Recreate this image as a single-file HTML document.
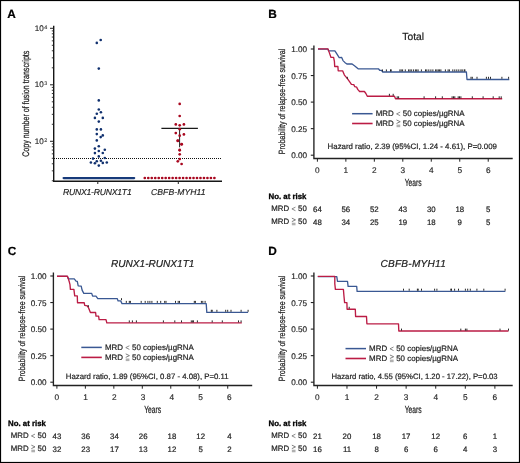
<!DOCTYPE html><html><head><meta charset="utf-8"><style>html,body{margin:0;padding:0;background:#fff}svg{display:block;will-change:transform}</style></head><body>
<svg width="520" height="463" viewBox="0 0 520 463" font-family='"Liberation Sans", sans-serif' text-rendering="geometricPrecision">
<rect x="0" y="0" width="520" height="463" fill="#fff"/>
<rect x="0.5" y="0.5" width="519" height="462" fill="none" stroke="#000" stroke-width="1.2"/>
<text x="7.3" y="17.9" font-size="11.85" text-anchor="start" font-weight="bold" font-style="normal" fill="#000" stroke="#000" stroke-width="0.2" >A</text>
<path d="M53.7 25.8 V181.3 H222" fill="none" stroke="#161616" stroke-width="1.4"/>
<path d="M50 28.30 H53.6" stroke="#222" stroke-width="1"/>
<text x="43.8" y="30.90" font-size="8.1" text-anchor="end" fill="#222" stroke="#222" stroke-width="0.12">10</text>
<text x="44.3" y="28.50" font-size="5.4" fill="#333" stroke="#333" stroke-width="0.1">4</text>
<path d="M50 84.80 H53.6" stroke="#222" stroke-width="1"/>
<text x="43.8" y="87.40" font-size="8.1" text-anchor="end" fill="#222" stroke="#222" stroke-width="0.12">10</text>
<text x="44.3" y="85.00" font-size="5.4" fill="#333" stroke="#333" stroke-width="0.1">3</text>
<path d="M50 141.30 H53.6" stroke="#222" stroke-width="1"/>
<text x="43.8" y="143.90" font-size="8.1" text-anchor="end" fill="#222" stroke="#222" stroke-width="0.12">10</text>
<text x="44.3" y="141.50" font-size="5.4" fill="#333" stroke="#333" stroke-width="0.1">2</text>
<path d="M51.8 67.79 H53.6" stroke="#222" stroke-width="0.9"/>
<path d="M51.8 57.84 H53.6" stroke="#222" stroke-width="0.9"/>
<path d="M51.8 50.78 H53.6" stroke="#222" stroke-width="0.9"/>
<path d="M51.8 45.31 H53.6" stroke="#222" stroke-width="0.9"/>
<path d="M51.8 40.83 H53.6" stroke="#222" stroke-width="0.9"/>
<path d="M51.8 37.05 H53.6" stroke="#222" stroke-width="0.9"/>
<path d="M51.8 33.78 H53.6" stroke="#222" stroke-width="0.9"/>
<path d="M51.8 30.89 H53.6" stroke="#222" stroke-width="0.9"/>
<path d="M51.8 124.29 H53.6" stroke="#222" stroke-width="0.9"/>
<path d="M51.8 114.34 H53.6" stroke="#222" stroke-width="0.9"/>
<path d="M51.8 107.28 H53.6" stroke="#222" stroke-width="0.9"/>
<path d="M51.8 101.81 H53.6" stroke="#222" stroke-width="0.9"/>
<path d="M51.8 97.33 H53.6" stroke="#222" stroke-width="0.9"/>
<path d="M51.8 93.55 H53.6" stroke="#222" stroke-width="0.9"/>
<path d="M51.8 90.28 H53.6" stroke="#222" stroke-width="0.9"/>
<path d="M51.8 87.39 H53.6" stroke="#222" stroke-width="0.9"/>
<path d="M51.8 180.79 H53.6" stroke="#222" stroke-width="0.9"/>
<path d="M51.8 170.84 H53.6" stroke="#222" stroke-width="0.9"/>
<path d="M51.8 163.78 H53.6" stroke="#222" stroke-width="0.9"/>
<path d="M51.8 158.31 H53.6" stroke="#222" stroke-width="0.9"/>
<path d="M51.8 153.83 H53.6" stroke="#222" stroke-width="0.9"/>
<path d="M51.8 150.05 H53.6" stroke="#222" stroke-width="0.9"/>
<path d="M51.8 146.78 H53.6" stroke="#222" stroke-width="0.9"/>
<path d="M51.8 143.89 H53.6" stroke="#222" stroke-width="0.9"/>
<path d="M54 158.5 H222" stroke="#111" stroke-width="1" stroke-dasharray="1 1"/>
<path d="M97.8 181.2 V184" stroke="#222" stroke-width="1"/>
<path d="M178.3 181.2 V184" stroke="#222" stroke-width="1"/>
<text x="97.2" y="195.0" font-size="8.60" text-anchor="middle" font-weight="normal" font-style="italic" fill="#222" stroke="#222" stroke-width="0.15" letter-spacing="-0.2">RUNX1-RUNX1T1</text>
<text x="178.3" y="195.0" font-size="8.60" text-anchor="middle" font-weight="normal" font-style="italic" fill="#222" stroke="#222" stroke-width="0.15" letter-spacing="0.1">CBFB-MYH11</text>
<text transform="translate(28.9 103.7) rotate(-90) scale(0.74 1)" font-size="9.6" text-anchor="middle" fill="#222" stroke="#222" stroke-width="0.24">Copy number of fusion transcripts</text>
<circle cx="96.8" cy="42.9" r="1.3" fill="#10306e"/>
<circle cx="100.7" cy="40.0" r="1.3" fill="#10306e"/>
<circle cx="98.8" cy="68.6" r="1.3" fill="#10306e"/>
<circle cx="98.8" cy="100.4" r="1.3" fill="#10306e"/>
<circle cx="98.8" cy="109.5" r="1.3" fill="#10306e"/>
<circle cx="100.9" cy="112.3" r="1.3" fill="#10306e"/>
<circle cx="96.8" cy="113.8" r="1.3" fill="#10306e"/>
<circle cx="94.9" cy="117.9" r="1.3" fill="#10306e"/>
<circle cx="102.8" cy="117.9" r="1.3" fill="#10306e"/>
<circle cx="98.8" cy="121.6" r="1.3" fill="#10306e"/>
<circle cx="96.8" cy="129.4" r="1.3" fill="#10306e"/>
<circle cx="100.9" cy="129.4" r="1.3" fill="#10306e"/>
<circle cx="96.8" cy="134.1" r="1.3" fill="#10306e"/>
<circle cx="102.8" cy="135.4" r="1.3" fill="#10306e"/>
<circle cx="100.7" cy="137.1" r="1.3" fill="#10306e"/>
<circle cx="96.8" cy="140.4" r="1.3" fill="#10306e"/>
<circle cx="98.8" cy="146.2" r="1.3" fill="#10306e"/>
<circle cx="94.9" cy="148.6" r="1.3" fill="#10306e"/>
<circle cx="98.8" cy="151" r="1.3" fill="#10306e"/>
<circle cx="104.8" cy="149.8" r="1.3" fill="#10306e"/>
<circle cx="94.9" cy="153.1" r="1.3" fill="#10306e"/>
<circle cx="102.8" cy="153" r="1.3" fill="#10306e"/>
<circle cx="98.8" cy="156.4" r="1.3" fill="#10306e"/>
<circle cx="93" cy="158.6" r="1.3" fill="#10306e"/>
<circle cx="104.8" cy="158" r="1.3" fill="#10306e"/>
<circle cx="96.8" cy="161.2" r="1.3" fill="#10306e"/>
<circle cx="100.9" cy="160.7" r="1.3" fill="#10306e"/>
<circle cx="90.9" cy="162.5" r="1.3" fill="#10306e"/>
<circle cx="94.9" cy="163.3" r="1.3" fill="#10306e"/>
<circle cx="102.8" cy="162.9" r="1.3" fill="#10306e"/>
<circle cx="106.8" cy="162.5" r="1.3" fill="#10306e"/>
<circle cx="98.8" cy="165.6" r="1.3" fill="#10306e"/>
<path d="M63.6 178.1 H134.2" stroke="#173a7a" stroke-width="2.2" stroke-linecap="round"/>
<path d="M161.4 128.3 H197.9" stroke="#1a1a1a" stroke-width="1.25"/>
<path d="M179.6 128.3 V147.3" stroke="#222" stroke-width="1"/>
<circle cx="179.70" cy="103.90" r="1.35" fill="#a8071f"/>
<circle cx="179.70" cy="116.00" r="1.35" fill="#a8071f"/>
<circle cx="175.80" cy="124.40" r="1.35" fill="#a8071f"/>
<circle cx="179.70" cy="125.30" r="1.35" fill="#a8071f"/>
<circle cx="183.90" cy="124.40" r="1.35" fill="#a8071f"/>
<circle cx="179.70" cy="129.20" r="1.35" fill="#a8071f"/>
<circle cx="175.80" cy="133.10" r="1.35" fill="#a8071f"/>
<circle cx="179.70" cy="135.70" r="1.35" fill="#a8071f"/>
<circle cx="183.90" cy="134.40" r="1.35" fill="#a8071f"/>
<circle cx="177.80" cy="140.60" r="1.35" fill="#a8071f"/>
<circle cx="181.70" cy="144.30" r="1.35" fill="#a8071f"/>
<circle cx="179.70" cy="149.90" r="1.35" fill="#a8071f"/>
<circle cx="177.80" cy="140.90" r="1.35" fill="#a8071f"/>
<circle cx="181.60" cy="144.20" r="1.35" fill="#a8071f"/>
<circle cx="179.70" cy="150.30" r="1.35" fill="#a8071f"/>
<circle cx="179.70" cy="154.30" r="1.35" fill="#a8071f"/>
<circle cx="179.70" cy="159.10" r="1.35" fill="#a8071f"/>
<circle cx="177.80" cy="161.30" r="1.35" fill="#a8071f"/>
<circle cx="181.60" cy="164.00" r="1.35" fill="#a8071f"/>
<circle cx="144.80" cy="178.0" r="1.35" fill="#a8071f"/>
<circle cx="148.28" cy="178.0" r="1.35" fill="#a8071f"/>
<circle cx="151.76" cy="178.0" r="1.35" fill="#a8071f"/>
<circle cx="155.24" cy="178.0" r="1.35" fill="#a8071f"/>
<circle cx="158.72" cy="178.0" r="1.35" fill="#a8071f"/>
<circle cx="162.20" cy="178.0" r="1.35" fill="#a8071f"/>
<circle cx="165.68" cy="178.0" r="1.35" fill="#a8071f"/>
<circle cx="169.16" cy="178.0" r="1.35" fill="#a8071f"/>
<circle cx="172.64" cy="178.0" r="1.35" fill="#a8071f"/>
<circle cx="176.12" cy="178.0" r="1.35" fill="#a8071f"/>
<circle cx="179.60" cy="178.0" r="1.35" fill="#a8071f"/>
<circle cx="183.08" cy="178.0" r="1.35" fill="#a8071f"/>
<circle cx="186.56" cy="178.0" r="1.35" fill="#a8071f"/>
<circle cx="190.04" cy="178.0" r="1.35" fill="#a8071f"/>
<circle cx="193.52" cy="178.0" r="1.35" fill="#a8071f"/>
<circle cx="197.00" cy="178.0" r="1.35" fill="#a8071f"/>
<circle cx="200.48" cy="178.0" r="1.35" fill="#a8071f"/>
<circle cx="203.96" cy="178.0" r="1.35" fill="#a8071f"/>
<circle cx="207.44" cy="178.0" r="1.35" fill="#a8071f"/>
<circle cx="210.92" cy="178.0" r="1.35" fill="#a8071f"/>
<circle cx="214.40" cy="178.0" r="1.35" fill="#a8071f"/>
<g transform="translate(0,0)">
<text x="268.3" y="18.1" font-size="11.85" text-anchor="start" font-weight="bold" font-style="normal" fill="#000" stroke="#000" stroke-width="0.2" >B</text>
</g>
<g transform="translate(0,0)">
</g>
<g transform="translate(0,0)">
<path d="M313.9 45.5 V158.5 H512.7" fill="none" stroke="#222" stroke-width="1.35"/>
<path d="M310.8 49.00 H313.9" stroke="#222" stroke-width="1.1"/>
<text x="307.1" y="52.1" font-size="8.19" text-anchor="end" font-weight="normal" font-style="normal" fill="#222" stroke="#222" stroke-width="0.16" >1.00</text>
<path d="M310.8 75.55 H313.9" stroke="#222" stroke-width="1.1"/>
<text x="307.1" y="78.64999999999999" font-size="8.19" text-anchor="end" font-weight="normal" font-style="normal" fill="#222" stroke="#222" stroke-width="0.16" >0.75</text>
<path d="M310.8 102.10 H313.9" stroke="#222" stroke-width="1.1"/>
<text x="307.1" y="105.19999999999999" font-size="8.19" text-anchor="end" font-weight="normal" font-style="normal" fill="#222" stroke="#222" stroke-width="0.16" >0.50</text>
<path d="M310.8 128.65 H313.9" stroke="#222" stroke-width="1.1"/>
<text x="307.1" y="131.75" font-size="8.19" text-anchor="end" font-weight="normal" font-style="normal" fill="#222" stroke="#222" stroke-width="0.16" >0.25</text>
<path d="M310.8 155.20 H313.9" stroke="#222" stroke-width="1.1"/>
<text x="307.1" y="158.29999999999998" font-size="8.19" text-anchor="end" font-weight="normal" font-style="normal" fill="#222" stroke="#222" stroke-width="0.16" >0.00</text>
<path d="M317.40 158.3 V161.7" stroke="#222" stroke-width="1"/>
<text x="317.4" y="172.6" font-size="8.29" text-anchor="middle" font-weight="normal" font-style="normal" fill="#222" stroke="#222" stroke-width="0.14" >0</text>
<path d="M345.87 158.3 V161.7" stroke="#222" stroke-width="1"/>
<text x="345.87" y="172.6" font-size="8.29" text-anchor="middle" font-weight="normal" font-style="normal" fill="#222" stroke="#222" stroke-width="0.14" >1</text>
<path d="M374.34 158.3 V161.7" stroke="#222" stroke-width="1"/>
<text x="374.34" y="172.6" font-size="8.29" text-anchor="middle" font-weight="normal" font-style="normal" fill="#222" stroke="#222" stroke-width="0.14" >2</text>
<path d="M402.81 158.3 V161.7" stroke="#222" stroke-width="1"/>
<text x="402.80999999999995" y="172.6" font-size="8.29" text-anchor="middle" font-weight="normal" font-style="normal" fill="#222" stroke="#222" stroke-width="0.14" >3</text>
<path d="M431.28 158.3 V161.7" stroke="#222" stroke-width="1"/>
<text x="431.28" y="172.6" font-size="8.29" text-anchor="middle" font-weight="normal" font-style="normal" fill="#222" stroke="#222" stroke-width="0.14" >4</text>
<path d="M459.75 158.3 V161.7" stroke="#222" stroke-width="1"/>
<text x="459.75" y="172.6" font-size="8.29" text-anchor="middle" font-weight="normal" font-style="normal" fill="#222" stroke="#222" stroke-width="0.14" >5</text>
<path d="M488.22 158.3 V161.7" stroke="#222" stroke-width="1"/>
<text x="488.21999999999997" y="172.6" font-size="8.29" text-anchor="middle" font-weight="normal" font-style="normal" fill="#222" stroke="#222" stroke-width="0.14" >6</text>
<text transform="translate(413.2 186.2) scale(0.66 1)" font-size="10.2" text-anchor="middle" fill="#222" stroke="#222" stroke-width="0.22">Years</text>
<text transform="translate(285.3 101.5) rotate(-90) scale(0.77 1)" font-size="9.1" text-anchor="middle" fill="#222" stroke="#222" stroke-width="0.24">Probability of relapse-free survival</text>
<text x="268.5" y="199" font-size="7.83" text-anchor="start" font-weight="bold" font-style="normal" fill="#000" stroke="#000" stroke-width="0.3" >No. at risk</text>
<text x="271.3" y="211.1" font-size="7.83" text-anchor="start" font-weight="normal" font-style="normal" fill="#222" stroke="#222" stroke-width="0.2" >MRD <tspan fill-opacity="0" stroke-opacity="0">&lt;</tspan> 50</text>
<path d="M295.46 207.14 L291.90 208.92 L295.46 210.70" fill="none" stroke="#666" stroke-width="0.75"/>
<text x="271.3" y="224.0" font-size="7.83" text-anchor="start" font-weight="normal" font-style="normal" fill="#222" stroke="#222" stroke-width="0.2" >MRD <tspan fill-opacity="0" stroke-opacity="0">&lt;</tspan> 50</text>
<path d="M291.85 218.15 L295.51 219.89 L291.85 221.62" fill="none" stroke="#555" stroke-width="0.75"/>
<rect x="291.85" y="222.71" width="3.67" height="2.58" fill="#b0b0b0"/>
<text x="317.4" y="211.9" font-size="7.83" text-anchor="middle" font-weight="normal" font-style="normal" fill="#222" stroke="#222" stroke-width="0.2" >64</text>
<text x="317.4" y="224.6" font-size="7.83" text-anchor="middle" font-weight="normal" font-style="normal" fill="#222" stroke="#222" stroke-width="0.2" >48</text>
<text x="345.87" y="211.9" font-size="7.83" text-anchor="middle" font-weight="normal" font-style="normal" fill="#222" stroke="#222" stroke-width="0.2" >56</text>
<text x="345.87" y="224.6" font-size="7.83" text-anchor="middle" font-weight="normal" font-style="normal" fill="#222" stroke="#222" stroke-width="0.2" >34</text>
<text x="374.34" y="211.9" font-size="7.83" text-anchor="middle" font-weight="normal" font-style="normal" fill="#222" stroke="#222" stroke-width="0.2" >52</text>
<text x="374.34" y="224.6" font-size="7.83" text-anchor="middle" font-weight="normal" font-style="normal" fill="#222" stroke="#222" stroke-width="0.2" >25</text>
<text x="402.80999999999995" y="211.9" font-size="7.83" text-anchor="middle" font-weight="normal" font-style="normal" fill="#222" stroke="#222" stroke-width="0.2" >43</text>
<text x="402.80999999999995" y="224.6" font-size="7.83" text-anchor="middle" font-weight="normal" font-style="normal" fill="#222" stroke="#222" stroke-width="0.2" >19</text>
<text x="431.28" y="211.9" font-size="7.83" text-anchor="middle" font-weight="normal" font-style="normal" fill="#222" stroke="#222" stroke-width="0.2" >30</text>
<text x="431.28" y="224.6" font-size="7.83" text-anchor="middle" font-weight="normal" font-style="normal" fill="#222" stroke="#222" stroke-width="0.2" >18</text>
<text x="459.75" y="211.9" font-size="7.83" text-anchor="middle" font-weight="normal" font-style="normal" fill="#222" stroke="#222" stroke-width="0.2" >18</text>
<text x="459.75" y="224.6" font-size="7.83" text-anchor="middle" font-weight="normal" font-style="normal" fill="#222" stroke="#222" stroke-width="0.2" >9</text>
<text x="488.21999999999997" y="211.9" font-size="7.83" text-anchor="middle" font-weight="normal" font-style="normal" fill="#222" stroke="#222" stroke-width="0.2" >5</text>
<text x="488.21999999999997" y="224.6" font-size="7.83" text-anchor="middle" font-weight="normal" font-style="normal" fill="#222" stroke="#222" stroke-width="0.2" >5</text>
</g>
<path d="M318.0 49.1 L328.0 49.1 L328.5 50.8 L334.9 50.8 L337.0 54.2 L339.2 57.6 L341.7 57.4 L343.0 60.6 L344.8 62.4 L346.9 64.0 L352.1 63.9 L355.1 66.2 L358.1 68.8 L378.4 68.8 L379.7 70.3 L381.5 70.3 L382.8 72.0 L466.4 72.0 L467.0 79.5 L509.3 79.5" fill="none" stroke="#3a5893" stroke-width="1.3" stroke-linejoin="round"/>
<path d="M318.0 48.9 L328.0 48.9 L329.3 52.6 L331.0 57.4 L333.6 57.4 L334.4 61.3 L334.7 66.5 L337.9 66.5 L338.2 70.8 L342.6 70.8 L344.4 75.1 L347.4 78.6 L350.4 82.8 L351.4 84.3 L353.8 84.6 L354.8 86.7 L356.7 87.2 L357.7 89.4 L359.6 91.5 L364.4 91.5 L365.9 93.5 L367.3 96.2 L394.5 96.2 L395.5 98.7 L502.2 98.7" fill="none" stroke="#bb1c45" stroke-width="1.35" stroke-linejoin="round"/>
<path d="M382.4 69.4 V71.4" stroke="#111" stroke-width="0.9"/>
<path d="M386.4 69.4 V71.4" stroke="#111" stroke-width="0.9"/>
<path d="M390.5 69.4 V71.4" stroke="#111" stroke-width="0.9"/>
<path d="M391.2 69.4 V71.4" stroke="#111" stroke-width="0.9"/>
<path d="M399.9 69.4 V71.4" stroke="#111" stroke-width="0.9"/>
<path d="M401.2 69.4 V71.4" stroke="#111" stroke-width="0.9"/>
<path d="M402.6 69.4 V71.4" stroke="#111" stroke-width="0.9"/>
<path d="M405.3 69.4 V71.4" stroke="#111" stroke-width="0.9"/>
<path d="M408.6 69.4 V71.4" stroke="#111" stroke-width="0.9"/>
<path d="M410.0 69.4 V71.4" stroke="#111" stroke-width="0.9"/>
<path d="M411.3 69.4 V71.4" stroke="#111" stroke-width="0.9"/>
<path d="M413.4 69.4 V71.4" stroke="#111" stroke-width="0.9"/>
<path d="M415.4 69.4 V71.4" stroke="#111" stroke-width="0.9"/>
<path d="M416.7 69.4 V71.4" stroke="#111" stroke-width="0.9"/>
<path d="M418.1 69.4 V71.4" stroke="#111" stroke-width="0.9"/>
<path d="M421.4 69.4 V71.4" stroke="#111" stroke-width="0.9"/>
<path d="M425.5 69.4 V71.4" stroke="#111" stroke-width="0.9"/>
<path d="M426.8 69.4 V71.4" stroke="#111" stroke-width="0.9"/>
<path d="M428.8 69.4 V71.4" stroke="#111" stroke-width="0.9"/>
<path d="M430.9 69.4 V71.4" stroke="#111" stroke-width="0.9"/>
<path d="M432.9 69.4 V71.4" stroke="#111" stroke-width="0.9"/>
<path d="M435.6 69.4 V71.4" stroke="#111" stroke-width="0.9"/>
<path d="M436.9 69.4 V71.4" stroke="#111" stroke-width="0.9"/>
<path d="M438.3 69.4 V71.4" stroke="#111" stroke-width="0.9"/>
<path d="M439.6 69.4 V71.4" stroke="#111" stroke-width="0.9"/>
<path d="M440.9 69.4 V71.4" stroke="#111" stroke-width="0.9"/>
<path d="M445.4 69.4 V71.4" stroke="#111" stroke-width="0.9"/>
<path d="M448.1 69.4 V71.4" stroke="#111" stroke-width="0.9"/>
<path d="M449.4 69.4 V71.4" stroke="#111" stroke-width="0.9"/>
<path d="M452.8 69.4 V71.4" stroke="#111" stroke-width="0.9"/>
<path d="M454.8 69.4 V71.4" stroke="#111" stroke-width="0.9"/>
<path d="M456.8 69.4 V71.4" stroke="#111" stroke-width="0.9"/>
<path d="M458.8 69.4 V71.4" stroke="#111" stroke-width="0.9"/>
<path d="M460.9 69.4 V71.4" stroke="#111" stroke-width="0.9"/>
<path d="M462.2 69.4 V71.4" stroke="#111" stroke-width="0.9"/>
<path d="M464.2 69.4 V71.4" stroke="#111" stroke-width="0.9"/>
<path d="M464.9 69.4 V71.4" stroke="#111" stroke-width="0.9"/>
<path d="M471.0 76.8 V78.8" stroke="#111" stroke-width="0.9"/>
<path d="M472.3 76.8 V78.8" stroke="#111" stroke-width="0.9"/>
<path d="M477.0 76.8 V78.8" stroke="#111" stroke-width="0.9"/>
<path d="M486.4 76.8 V78.8" stroke="#111" stroke-width="0.9"/>
<path d="M488.5 76.8 V78.8" stroke="#111" stroke-width="0.9"/>
<path d="M490.5 76.8 V78.8" stroke="#111" stroke-width="0.9"/>
<path d="M501.9 76.8 V78.8" stroke="#111" stroke-width="0.9"/>
<path d="M508.6 76.8 V78.8" stroke="#111" stroke-width="0.9"/>
<path d="M347.3 76.8 V78.8" stroke="#111" stroke-width="0.9"/>
<path d="M389.4 93.8 V95.8" stroke="#111" stroke-width="0.9"/>
<path d="M393.2 93.8 V95.8" stroke="#111" stroke-width="0.9"/>
<path d="M397.2 96.3 V98.3" stroke="#111" stroke-width="0.9"/>
<path d="M398.6 96.3 V98.3" stroke="#111" stroke-width="0.9"/>
<path d="M424.1 96.3 V98.3" stroke="#111" stroke-width="0.9"/>
<path d="M435.6 96.3 V98.3" stroke="#111" stroke-width="0.9"/>
<path d="M442.3 96.3 V98.3" stroke="#111" stroke-width="0.9"/>
<path d="M452.1 96.3 V98.3" stroke="#111" stroke-width="0.9"/>
<path d="M453.5 96.3 V98.3" stroke="#111" stroke-width="0.9"/>
<path d="M454.8 96.3 V98.3" stroke="#111" stroke-width="0.9"/>
<path d="M458.2 96.3 V98.3" stroke="#111" stroke-width="0.9"/>
<path d="M459.5 96.3 V98.3" stroke="#111" stroke-width="0.9"/>
<path d="M460.9 96.3 V98.3" stroke="#111" stroke-width="0.9"/>
<path d="M472.3 96.3 V98.3" stroke="#111" stroke-width="0.9"/>
<path d="M483.1 96.3 V98.3" stroke="#111" stroke-width="0.9"/>
<path d="M493.2 96.3 V98.3" stroke="#111" stroke-width="0.9"/>
<path d="M499.2 96.3 V98.3" stroke="#111" stroke-width="0.9"/>
<path d="M501.2 96.3 V98.3" stroke="#111" stroke-width="0.9"/>
<text x="413.2" y="39.9" font-size="10.30" text-anchor="middle" font-weight="normal" font-style="normal" fill="#222" stroke="#222" stroke-width="0.2" >Total</text>
<path d="M352.1 113.7 H372.6" stroke="#3a5893" stroke-width="1.5"/>
<path d="M352.1 123.5 H372.6" stroke="#bb1c45" stroke-width="1.6"/>
<text x="375.70000000000005" y="116.10000000000001" font-size="7.93" text-anchor="start" font-weight="normal" font-style="normal" fill="#222" stroke="#222" stroke-width="0.2" >MRD <tspan fill-opacity="0" stroke-opacity="0">&lt;</tspan> 50 copies/µgRNA</text>
<path d="M400.18 112.08 L396.57 113.89 L400.18 115.70" fill="none" stroke="#666" stroke-width="0.75"/>
<text x="375.70000000000005" y="125.9" font-size="7.93" text-anchor="start" font-weight="normal" font-style="normal" fill="#222" stroke="#222" stroke-width="0.2" >MRD <tspan fill-opacity="0" stroke-opacity="0">&lt;</tspan> 50 copies/µgRNA</text>
<path d="M396.52 119.98 L400.23 121.73 L396.52 123.49" fill="none" stroke="#555" stroke-width="0.75"/>
<rect x="396.52" y="124.59" width="3.71" height="2.61" fill="#b0b0b0"/>
<text x="327.6" y="148.5" font-size="7.87" text-anchor="start" font-weight="normal" font-style="normal" fill="#222" stroke="#222" stroke-width="0.2" >Hazard ratio, 2.39 (95%CI, 1.24 - 4.61), P=0.009</text>
<g transform="translate(-260.5,227)">
<text x="268.3" y="27.900000000000002" font-size="11.85" text-anchor="start" font-weight="bold" font-style="normal" fill="#000" stroke="#000" stroke-width="0.2" >C</text>
</g>
<g transform="translate(-260.5,227)">
</g>
<g transform="translate(-260.5,227)">
<path d="M313.9 45.5 V158.5 H512.7" fill="none" stroke="#222" stroke-width="1.35"/>
<path d="M310.8 49.00 H313.9" stroke="#222" stroke-width="1.1"/>
<text x="307.1" y="52.1" font-size="8.19" text-anchor="end" font-weight="normal" font-style="normal" fill="#222" stroke="#222" stroke-width="0.16" >1.00</text>
<path d="M310.8 75.55 H313.9" stroke="#222" stroke-width="1.1"/>
<text x="307.1" y="78.64999999999999" font-size="8.19" text-anchor="end" font-weight="normal" font-style="normal" fill="#222" stroke="#222" stroke-width="0.16" >0.75</text>
<path d="M310.8 102.10 H313.9" stroke="#222" stroke-width="1.1"/>
<text x="307.1" y="105.19999999999999" font-size="8.19" text-anchor="end" font-weight="normal" font-style="normal" fill="#222" stroke="#222" stroke-width="0.16" >0.50</text>
<path d="M310.8 128.65 H313.9" stroke="#222" stroke-width="1.1"/>
<text x="307.1" y="131.75" font-size="8.19" text-anchor="end" font-weight="normal" font-style="normal" fill="#222" stroke="#222" stroke-width="0.16" >0.25</text>
<path d="M310.8 155.20 H313.9" stroke="#222" stroke-width="1.1"/>
<text x="307.1" y="158.29999999999998" font-size="8.19" text-anchor="end" font-weight="normal" font-style="normal" fill="#222" stroke="#222" stroke-width="0.16" >0.00</text>
<path d="M317.40 158.3 V161.7" stroke="#222" stroke-width="1"/>
<text x="317.4" y="172.6" font-size="8.29" text-anchor="middle" font-weight="normal" font-style="normal" fill="#222" stroke="#222" stroke-width="0.14" >0</text>
<path d="M345.87 158.3 V161.7" stroke="#222" stroke-width="1"/>
<text x="346.15" y="172.6" font-size="8.29" text-anchor="middle" font-weight="normal" font-style="normal" fill="#222" stroke="#222" stroke-width="0.14" >1</text>
<path d="M374.34 158.3 V161.7" stroke="#222" stroke-width="1"/>
<text x="374.9" y="172.6" font-size="8.29" text-anchor="middle" font-weight="normal" font-style="normal" fill="#222" stroke="#222" stroke-width="0.14" >2</text>
<path d="M402.81 158.3 V161.7" stroke="#222" stroke-width="1"/>
<text x="403.65" y="172.6" font-size="8.29" text-anchor="middle" font-weight="normal" font-style="normal" fill="#222" stroke="#222" stroke-width="0.14" >3</text>
<path d="M431.28 158.3 V161.7" stroke="#222" stroke-width="1"/>
<text x="432.4" y="172.6" font-size="8.29" text-anchor="middle" font-weight="normal" font-style="normal" fill="#222" stroke="#222" stroke-width="0.14" >4</text>
<path d="M459.75 158.3 V161.7" stroke="#222" stroke-width="1"/>
<text x="461.15" y="172.6" font-size="8.29" text-anchor="middle" font-weight="normal" font-style="normal" fill="#222" stroke="#222" stroke-width="0.14" >5</text>
<path d="M488.22 158.3 V161.7" stroke="#222" stroke-width="1"/>
<text x="489.9" y="172.6" font-size="8.29" text-anchor="middle" font-weight="normal" font-style="normal" fill="#222" stroke="#222" stroke-width="0.14" >6</text>
<text transform="translate(413.2 186.2) scale(0.66 1)" font-size="10.2" text-anchor="middle" fill="#222" stroke="#222" stroke-width="0.22">Years</text>
<text transform="translate(285.3 101.5) rotate(-90) scale(0.77 1)" font-size="9.1" text-anchor="middle" fill="#222" stroke="#222" stroke-width="0.24">Probability of relapse-free survival</text>
<text x="268.5" y="199" font-size="7.83" text-anchor="start" font-weight="bold" font-style="normal" fill="#000" stroke="#000" stroke-width="0.3" >No. at risk</text>
<text x="271.3" y="211.1" font-size="7.83" text-anchor="start" font-weight="normal" font-style="normal" fill="#222" stroke="#222" stroke-width="0.2" >MRD <tspan fill-opacity="0" stroke-opacity="0">&lt;</tspan> 50</text>
<path d="M295.46 207.14 L291.90 208.92 L295.46 210.70" fill="none" stroke="#666" stroke-width="0.75"/>
<text x="271.3" y="224.0" font-size="7.83" text-anchor="start" font-weight="normal" font-style="normal" fill="#222" stroke="#222" stroke-width="0.2" >MRD <tspan fill-opacity="0" stroke-opacity="0">&lt;</tspan> 50</text>
<path d="M291.85 218.15 L295.51 219.89 L291.85 221.62" fill="none" stroke="#555" stroke-width="0.75"/>
<rect x="291.85" y="222.71" width="3.67" height="2.58" fill="#b0b0b0"/>
<text x="317.4" y="211.9" font-size="7.83" text-anchor="middle" font-weight="normal" font-style="normal" fill="#222" stroke="#222" stroke-width="0.2" >43</text>
<text x="317.4" y="224.6" font-size="7.83" text-anchor="middle" font-weight="normal" font-style="normal" fill="#222" stroke="#222" stroke-width="0.2" >32</text>
<text x="346.15" y="211.9" font-size="7.83" text-anchor="middle" font-weight="normal" font-style="normal" fill="#222" stroke="#222" stroke-width="0.2" >36</text>
<text x="346.15" y="224.6" font-size="7.83" text-anchor="middle" font-weight="normal" font-style="normal" fill="#222" stroke="#222" stroke-width="0.2" >23</text>
<text x="374.9" y="211.9" font-size="7.83" text-anchor="middle" font-weight="normal" font-style="normal" fill="#222" stroke="#222" stroke-width="0.2" >34</text>
<text x="374.9" y="224.6" font-size="7.83" text-anchor="middle" font-weight="normal" font-style="normal" fill="#222" stroke="#222" stroke-width="0.2" >17</text>
<text x="403.65" y="211.9" font-size="7.83" text-anchor="middle" font-weight="normal" font-style="normal" fill="#222" stroke="#222" stroke-width="0.2" >26</text>
<text x="403.65" y="224.6" font-size="7.83" text-anchor="middle" font-weight="normal" font-style="normal" fill="#222" stroke="#222" stroke-width="0.2" >13</text>
<text x="432.4" y="211.9" font-size="7.83" text-anchor="middle" font-weight="normal" font-style="normal" fill="#222" stroke="#222" stroke-width="0.2" >18</text>
<text x="432.4" y="224.6" font-size="7.83" text-anchor="middle" font-weight="normal" font-style="normal" fill="#222" stroke="#222" stroke-width="0.2" >12</text>
<text x="461.15" y="211.9" font-size="7.83" text-anchor="middle" font-weight="normal" font-style="normal" fill="#222" stroke="#222" stroke-width="0.2" >12</text>
<text x="461.15" y="224.6" font-size="7.83" text-anchor="middle" font-weight="normal" font-style="normal" fill="#222" stroke="#222" stroke-width="0.2" >5</text>
<text x="489.9" y="211.9" font-size="7.83" text-anchor="middle" font-weight="normal" font-style="normal" fill="#222" stroke="#222" stroke-width="0.2" >4</text>
<text x="489.9" y="224.6" font-size="7.83" text-anchor="middle" font-weight="normal" font-style="normal" fill="#222" stroke="#222" stroke-width="0.2" >2</text>
</g>
<path d="M57.0 276.4 L67.4 276.4 L68.3 278.8 L74.3 278.8 L76.0 281.1 L77.3 281.4 L78.2 285.9 L81.2 286.2 L82.1 290.1 L83.8 293.4 L91.7 293.4 L92.6 296.1 L96.0 296.1 L97.8 298.6 L117.2 298.6 L118.1 300.9 L120.7 300.9 L122.0 303.6 L206.2 303.6 L206.8 312.4 L248.1 312.4" fill="none" stroke="#3a5893" stroke-width="1.3" stroke-linejoin="round"/>
<path d="M57.0 276.2 L67.4 276.2 L68.3 278.6 L69.1 281.2 L70.0 284.7 L70.4 289.4 L73.9 289.4 L74.7 295.9 L77.3 295.9 L77.5 302.7 L84.2 302.7 L84.7 305.4 L87.3 305.9 L88.6 308.0 L90.4 312.5 L95.6 312.5 L96.0 316.1 L98.6 316.1 L99.1 319.6 L106.0 319.6 L106.8 322.8 L241.8 322.8" fill="none" stroke="#bb1c45" stroke-width="1.35" stroke-linejoin="round"/>
<path d="M121.5 298.2 V300.2" stroke="#111" stroke-width="0.9"/>
<path d="M126.3 300.9 V302.9" stroke="#111" stroke-width="0.9"/>
<path d="M129.3 300.9 V302.9" stroke="#111" stroke-width="0.9"/>
<path d="M130.4 300.9 V302.9" stroke="#111" stroke-width="0.9"/>
<path d="M141.2 300.9 V302.9" stroke="#111" stroke-width="0.9"/>
<path d="M145.2 300.9 V302.9" stroke="#111" stroke-width="0.9"/>
<path d="M147.9 300.9 V302.9" stroke="#111" stroke-width="0.9"/>
<path d="M149.9 300.9 V302.9" stroke="#111" stroke-width="0.9"/>
<path d="M151.9 300.9 V302.9" stroke="#111" stroke-width="0.9"/>
<path d="M157.3 300.9 V302.9" stroke="#111" stroke-width="0.9"/>
<path d="M160.7 300.9 V302.9" stroke="#111" stroke-width="0.9"/>
<path d="M164.7 300.9 V302.9" stroke="#111" stroke-width="0.9"/>
<path d="M166.0 300.9 V302.9" stroke="#111" stroke-width="0.9"/>
<path d="M175.5 300.9 V302.9" stroke="#111" stroke-width="0.9"/>
<path d="M178.2 300.9 V302.9" stroke="#111" stroke-width="0.9"/>
<path d="M179.5 300.9 V302.9" stroke="#111" stroke-width="0.9"/>
<path d="M194.3 300.9 V302.9" stroke="#111" stroke-width="0.9"/>
<path d="M195.4 300.9 V302.9" stroke="#111" stroke-width="0.9"/>
<path d="M201.4 300.9 V302.9" stroke="#111" stroke-width="0.9"/>
<path d="M202.8 300.9 V302.9" stroke="#111" stroke-width="0.9"/>
<path d="M205.1 300.9 V302.9" stroke="#111" stroke-width="0.9"/>
<path d="M211.3 309.8 V311.8" stroke="#111" stroke-width="0.9"/>
<path d="M212.2 309.8 V311.8" stroke="#111" stroke-width="0.9"/>
<path d="M216.9 309.8 V311.8" stroke="#111" stroke-width="0.9"/>
<path d="M225.7 309.8 V311.8" stroke="#111" stroke-width="0.9"/>
<path d="M227.7 309.8 V311.8" stroke="#111" stroke-width="0.9"/>
<path d="M231.0 309.8 V311.8" stroke="#111" stroke-width="0.9"/>
<path d="M241.1 309.8 V311.8" stroke="#111" stroke-width="0.9"/>
<path d="M248.1 309.8 V311.8" stroke="#111" stroke-width="0.9"/>
<path d="M88.3 305.1 V307.1" stroke="#111" stroke-width="0.9"/>
<path d="M129.3 320.4 V322.4" stroke="#111" stroke-width="0.9"/>
<path d="M132.4 320.4 V322.4" stroke="#111" stroke-width="0.9"/>
<path d="M136.4 320.4 V322.4" stroke="#111" stroke-width="0.9"/>
<path d="M163.4 320.4 V322.4" stroke="#111" stroke-width="0.9"/>
<path d="M174.8 320.4 V322.4" stroke="#111" stroke-width="0.9"/>
<path d="M181.5 320.4 V322.4" stroke="#111" stroke-width="0.9"/>
<path d="M191.3 320.4 V322.4" stroke="#111" stroke-width="0.9"/>
<path d="M192.7 320.4 V322.4" stroke="#111" stroke-width="0.9"/>
<path d="M193.4 320.4 V322.4" stroke="#111" stroke-width="0.9"/>
<path d="M197.4 320.4 V322.4" stroke="#111" stroke-width="0.9"/>
<path d="M212.2 320.4 V322.4" stroke="#111" stroke-width="0.9"/>
<path d="M222.3 320.4 V322.4" stroke="#111" stroke-width="0.9"/>
<path d="M238.5 320.4 V322.4" stroke="#111" stroke-width="0.9"/>
<path d="M241.1 320.4 V322.4" stroke="#111" stroke-width="0.9"/>
<text x="152.7" y="266.9" font-size="10.09" text-anchor="middle" font-weight="normal" font-style="italic" fill="#222" stroke="#222" stroke-width="0.2" >RUNX1-RUNX1T1</text>
<path d="M81.3 347.4 H101.8" stroke="#3a5893" stroke-width="1.5"/>
<path d="M81.3 357.4 H101.8" stroke="#bb1c45" stroke-width="1.6"/>
<text x="104.9" y="349.8" font-size="7.93" text-anchor="start" font-weight="normal" font-style="normal" fill="#222" stroke="#222" stroke-width="0.2" >MRD <tspan fill-opacity="0" stroke-opacity="0">&lt;</tspan> 50 copies/µgRNA</text>
<path d="M129.38 345.78 L125.77 347.59 L129.38 349.40" fill="none" stroke="#666" stroke-width="0.75"/>
<text x="104.9" y="359.8" font-size="7.93" text-anchor="start" font-weight="normal" font-style="normal" fill="#222" stroke="#222" stroke-width="0.2" >MRD <tspan fill-opacity="0" stroke-opacity="0">&lt;</tspan> 50 copies/µgRNA</text>
<path d="M125.72 353.88 L129.43 355.63 L125.72 357.39" fill="none" stroke="#555" stroke-width="0.75"/>
<rect x="125.72" y="358.49" width="3.71" height="2.61" fill="#b0b0b0"/>
<text x="65.8" y="378.5" font-size="7.79" text-anchor="start" font-weight="normal" font-style="normal" fill="#222" stroke="#222" stroke-width="0.2" >Hazard ratio, 1.89 (95%CI, 0.87 - 4.08), P=0.11</text>
<g transform="translate(0,227)">
<text x="268.3" y="27.900000000000002" font-size="11.85" text-anchor="start" font-weight="bold" font-style="normal" fill="#000" stroke="#000" stroke-width="0.2" >D</text>
</g>
<g transform="translate(0,227)">
</g>
<g transform="translate(0,227)">
<path d="M313.9 45.5 V158.5 H512.7" fill="none" stroke="#222" stroke-width="1.35"/>
<path d="M310.8 49.00 H313.9" stroke="#222" stroke-width="1.1"/>
<text x="307.1" y="52.1" font-size="8.19" text-anchor="end" font-weight="normal" font-style="normal" fill="#222" stroke="#222" stroke-width="0.16" >1.00</text>
<path d="M310.8 75.55 H313.9" stroke="#222" stroke-width="1.1"/>
<text x="307.1" y="78.64999999999999" font-size="8.19" text-anchor="end" font-weight="normal" font-style="normal" fill="#222" stroke="#222" stroke-width="0.16" >0.75</text>
<path d="M310.8 102.10 H313.9" stroke="#222" stroke-width="1.1"/>
<text x="307.1" y="105.19999999999999" font-size="8.19" text-anchor="end" font-weight="normal" font-style="normal" fill="#222" stroke="#222" stroke-width="0.16" >0.50</text>
<path d="M310.8 128.65 H313.9" stroke="#222" stroke-width="1.1"/>
<text x="307.1" y="131.75" font-size="8.19" text-anchor="end" font-weight="normal" font-style="normal" fill="#222" stroke="#222" stroke-width="0.16" >0.25</text>
<path d="M310.8 155.20 H313.9" stroke="#222" stroke-width="1.1"/>
<text x="307.1" y="158.29999999999998" font-size="8.19" text-anchor="end" font-weight="normal" font-style="normal" fill="#222" stroke="#222" stroke-width="0.16" >0.00</text>
<path d="M317.40 158.3 V161.7" stroke="#222" stroke-width="1"/>
<text x="317.4" y="172.6" font-size="8.29" text-anchor="middle" font-weight="normal" font-style="normal" fill="#222" stroke="#222" stroke-width="0.14" >0</text>
<path d="M346.98 158.3 V161.7" stroke="#222" stroke-width="1"/>
<text x="346.97999999999996" y="172.6" font-size="8.29" text-anchor="middle" font-weight="normal" font-style="normal" fill="#222" stroke="#222" stroke-width="0.14" >1</text>
<path d="M376.56 158.3 V161.7" stroke="#222" stroke-width="1"/>
<text x="376.55999999999995" y="172.6" font-size="8.29" text-anchor="middle" font-weight="normal" font-style="normal" fill="#222" stroke="#222" stroke-width="0.14" >2</text>
<path d="M406.14 158.3 V161.7" stroke="#222" stroke-width="1"/>
<text x="406.14" y="172.6" font-size="8.29" text-anchor="middle" font-weight="normal" font-style="normal" fill="#222" stroke="#222" stroke-width="0.14" >3</text>
<path d="M435.72 158.3 V161.7" stroke="#222" stroke-width="1"/>
<text x="435.71999999999997" y="172.6" font-size="8.29" text-anchor="middle" font-weight="normal" font-style="normal" fill="#222" stroke="#222" stroke-width="0.14" >4</text>
<path d="M465.30 158.3 V161.7" stroke="#222" stroke-width="1"/>
<text x="465.29999999999995" y="172.6" font-size="8.29" text-anchor="middle" font-weight="normal" font-style="normal" fill="#222" stroke="#222" stroke-width="0.14" >5</text>
<path d="M494.88 158.3 V161.7" stroke="#222" stroke-width="1"/>
<text x="494.88" y="172.6" font-size="8.29" text-anchor="middle" font-weight="normal" font-style="normal" fill="#222" stroke="#222" stroke-width="0.14" >6</text>
<text transform="translate(413.2 186.2) scale(0.66 1)" font-size="10.2" text-anchor="middle" fill="#222" stroke="#222" stroke-width="0.22">Years</text>
<text transform="translate(285.3 101.5) rotate(-90) scale(0.77 1)" font-size="9.1" text-anchor="middle" fill="#222" stroke="#222" stroke-width="0.24">Probability of relapse-free survival</text>
<text x="268.5" y="199" font-size="7.83" text-anchor="start" font-weight="bold" font-style="normal" fill="#000" stroke="#000" stroke-width="0.3" >No. at risk</text>
<text x="271.3" y="211.1" font-size="7.83" text-anchor="start" font-weight="normal" font-style="normal" fill="#222" stroke="#222" stroke-width="0.2" >MRD <tspan fill-opacity="0" stroke-opacity="0">&lt;</tspan> 50</text>
<path d="M295.46 207.14 L291.90 208.92 L295.46 210.70" fill="none" stroke="#666" stroke-width="0.75"/>
<text x="271.3" y="224.0" font-size="7.83" text-anchor="start" font-weight="normal" font-style="normal" fill="#222" stroke="#222" stroke-width="0.2" >MRD <tspan fill-opacity="0" stroke-opacity="0">&lt;</tspan> 50</text>
<path d="M291.85 218.15 L295.51 219.89 L291.85 221.62" fill="none" stroke="#555" stroke-width="0.75"/>
<rect x="291.85" y="222.71" width="3.67" height="2.58" fill="#b0b0b0"/>
<text x="317.4" y="211.9" font-size="7.83" text-anchor="middle" font-weight="normal" font-style="normal" fill="#222" stroke="#222" stroke-width="0.2" >21</text>
<text x="317.4" y="224.6" font-size="7.83" text-anchor="middle" font-weight="normal" font-style="normal" fill="#222" stroke="#222" stroke-width="0.2" >16</text>
<text x="346.97999999999996" y="211.9" font-size="7.83" text-anchor="middle" font-weight="normal" font-style="normal" fill="#222" stroke="#222" stroke-width="0.2" >20</text>
<text x="346.97999999999996" y="224.6" font-size="7.83" text-anchor="middle" font-weight="normal" font-style="normal" fill="#222" stroke="#222" stroke-width="0.2" >11</text>
<text x="376.55999999999995" y="211.9" font-size="7.83" text-anchor="middle" font-weight="normal" font-style="normal" fill="#222" stroke="#222" stroke-width="0.2" >18</text>
<text x="376.55999999999995" y="224.6" font-size="7.83" text-anchor="middle" font-weight="normal" font-style="normal" fill="#222" stroke="#222" stroke-width="0.2" >8</text>
<text x="406.14" y="211.9" font-size="7.83" text-anchor="middle" font-weight="normal" font-style="normal" fill="#222" stroke="#222" stroke-width="0.2" >17</text>
<text x="406.14" y="224.6" font-size="7.83" text-anchor="middle" font-weight="normal" font-style="normal" fill="#222" stroke="#222" stroke-width="0.2" >6</text>
<text x="435.71999999999997" y="211.9" font-size="7.83" text-anchor="middle" font-weight="normal" font-style="normal" fill="#222" stroke="#222" stroke-width="0.2" >12</text>
<text x="435.71999999999997" y="224.6" font-size="7.83" text-anchor="middle" font-weight="normal" font-style="normal" fill="#222" stroke="#222" stroke-width="0.2" >6</text>
<text x="465.29999999999995" y="211.9" font-size="7.83" text-anchor="middle" font-weight="normal" font-style="normal" fill="#222" stroke="#222" stroke-width="0.2" >6</text>
<text x="465.29999999999995" y="224.6" font-size="7.83" text-anchor="middle" font-weight="normal" font-style="normal" fill="#222" stroke="#222" stroke-width="0.2" >4</text>
<text x="494.88" y="211.9" font-size="7.83" text-anchor="middle" font-weight="normal" font-style="normal" fill="#222" stroke="#222" stroke-width="0.2" >1</text>
<text x="494.88" y="224.6" font-size="7.83" text-anchor="middle" font-weight="normal" font-style="normal" fill="#222" stroke="#222" stroke-width="0.2" >3</text>
</g>
<path d="M317.8 276.6 L336.8 276.6 L337.5 281.4 L347.5 281.4 L348.1 286.4 L356.7 286.4 L357.1 291.4 L505.4 291.4" fill="none" stroke="#3a5893" stroke-width="1.3" stroke-linejoin="round"/>
<path d="M317.8 276.3 L334.8 276.3 L334.8 283.8 L335.4 289.4 L343.4 289.4 L344.0 296.5 L344.6 302.6 L346.9 302.6 L347.1 309.2 L355.3 309.2 L355.6 316.5 L366.5 316.5 L366.9 323.8 L398.5 323.8 L398.8 331.0 L508.5 331.0" fill="none" stroke="#bb1c45" stroke-width="1.35" stroke-linejoin="round"/>
<path d="M403.5 288.7 V290.7" stroke="#111" stroke-width="0.9"/>
<path d="M409.2 288.7 V290.7" stroke="#111" stroke-width="0.9"/>
<path d="M417.4 288.7 V290.7" stroke="#111" stroke-width="0.9"/>
<path d="M418.2 288.7 V290.7" stroke="#111" stroke-width="0.9"/>
<path d="M421.5 288.7 V290.7" stroke="#111" stroke-width="0.9"/>
<path d="M434.6 288.7 V290.7" stroke="#111" stroke-width="0.9"/>
<path d="M436.9 288.7 V290.7" stroke="#111" stroke-width="0.9"/>
<path d="M450.8 288.7 V290.7" stroke="#111" stroke-width="0.9"/>
<path d="M451.5 288.7 V290.7" stroke="#111" stroke-width="0.9"/>
<path d="M454.6 288.7 V290.7" stroke="#111" stroke-width="0.9"/>
<path d="M458.5 288.7 V290.7" stroke="#111" stroke-width="0.9"/>
<path d="M465.4 288.7 V290.7" stroke="#111" stroke-width="0.9"/>
<path d="M467.7 288.7 V290.7" stroke="#111" stroke-width="0.9"/>
<path d="M470.3 288.7 V290.7" stroke="#111" stroke-width="0.9"/>
<path d="M476.9 288.7 V290.7" stroke="#111" stroke-width="0.9"/>
<path d="M483.8 288.7 V290.7" stroke="#111" stroke-width="0.9"/>
<path d="M505.1 288.7 V290.7" stroke="#111" stroke-width="0.9"/>
<path d="M349.2 306.8 V308.8" stroke="#111" stroke-width="0.9"/>
<path d="M401.5 328.6 V330.6" stroke="#111" stroke-width="0.9"/>
<path d="M460.8 328.6 V330.6" stroke="#111" stroke-width="0.9"/>
<path d="M465.4 328.6 V330.6" stroke="#111" stroke-width="0.9"/>
<path d="M466.9 328.6 V330.6" stroke="#111" stroke-width="0.9"/>
<path d="M500.0 328.6 V330.6" stroke="#111" stroke-width="0.9"/>
<path d="M508.5 328.6 V330.6" stroke="#111" stroke-width="0.9"/>
<text x="413.2" y="266.9" font-size="10.09" text-anchor="middle" font-weight="normal" font-style="italic" fill="#222" stroke="#222" stroke-width="0.2" letter-spacing="0.25">CBFB-MYH11</text>
<path d="M345.5 348.6 H366.0" stroke="#3a5893" stroke-width="1.5"/>
<path d="M345.5 358.5 H366.0" stroke="#bb1c45" stroke-width="1.6"/>
<text x="369.1" y="351.0" font-size="7.93" text-anchor="start" font-weight="normal" font-style="normal" fill="#222" stroke="#222" stroke-width="0.2" >MRD <tspan fill-opacity="0" stroke-opacity="0">&lt;</tspan> 50 copies/µgRNA</text>
<path d="M393.58 346.98 L389.97 348.79 L393.58 350.60" fill="none" stroke="#666" stroke-width="0.75"/>
<text x="369.1" y="360.9" font-size="7.93" text-anchor="start" font-weight="normal" font-style="normal" fill="#222" stroke="#222" stroke-width="0.2" >MRD <tspan fill-opacity="0" stroke-opacity="0">&lt;</tspan> 50 copies/µgRNA</text>
<path d="M389.92 354.98 L393.63 356.73 L389.92 358.49" fill="none" stroke="#555" stroke-width="0.75"/>
<rect x="389.92" y="359.59" width="3.71" height="2.61" fill="#b0b0b0"/>
<text x="331.40000000000003" y="378.8" font-size="7.73" text-anchor="start" font-weight="normal" font-style="normal" fill="#222" stroke="#222" stroke-width="0.2" >Hazard ratio, 4.55 (95%CI, 1.20 - 17.22), P=0.03</text>
</svg></body></html>
